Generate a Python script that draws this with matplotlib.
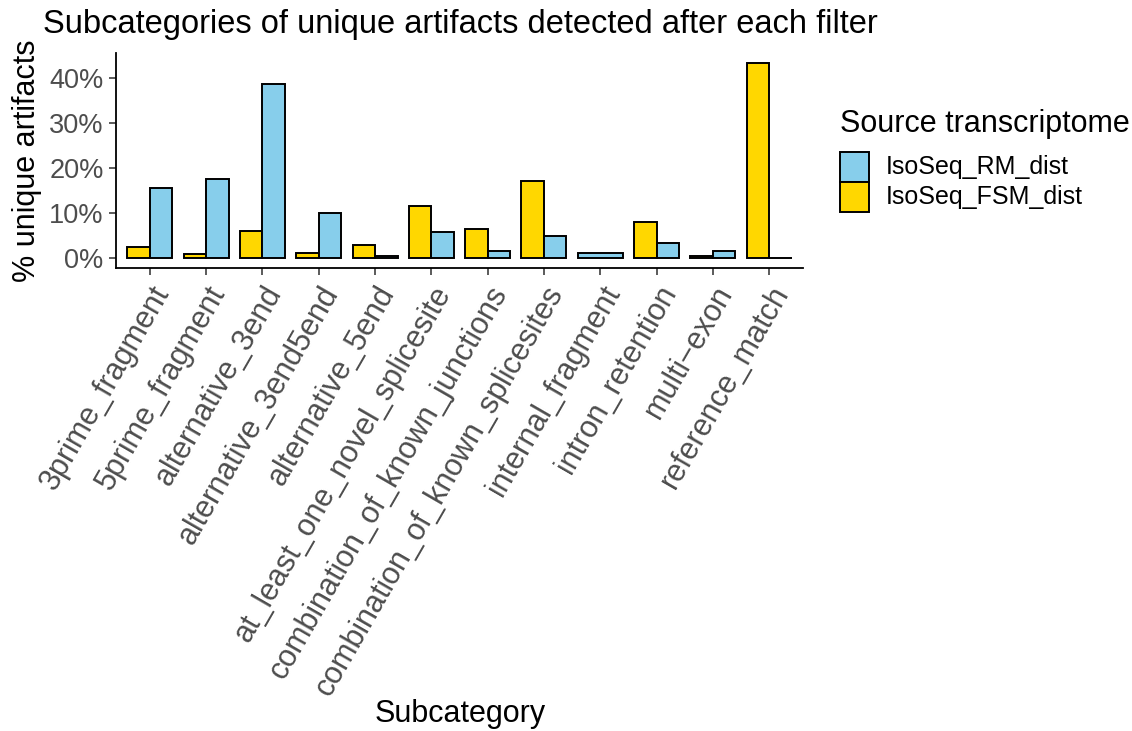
import numpy as np
import matplotlib
matplotlib.use("Agg")
import matplotlib.pyplot as plt
from matplotlib.patches import Rectangle
from matplotlib.ticker import FuncFormatter

plt.rcParams['font.family'] = ['Liberation Sans', 'DejaVu Sans']

categories = ["3prime_fragment", "5prime_fragment", "alternative_3end", "alternative_3end5end",
              "alternative_5end", "at_least_one_novel_splicesite", "combination_of_known_junctions",
              "combination_of_known_splicesites", "internal_fragment", "intron_retention",
              "multi\u2212exon", "reference_match"]
fsm_values = [2.4, 1.0, 6.0, 1.25, 3.0, 11.6, 6.5, 17.0, np.nan, 8.1, 0.4, 43.3]
rm_values = [15.5, 17.6, 38.5, 10.0, 0.5, 5.7, 1.7, 5.0, 1.25, 3.3, 1.7, 0.1]
series_names = ["IsoSeq_RM_dist", "IsoSeq_FSM_dist"]
series_colors = {"IsoSeq_RM_dist": "#87CEEB", "IsoSeq_FSM_dist": "#FFD700"}

W, H = 1132, 731
fig = plt.figure(figsize=(W/100, H/100), dpi=100)
ax = fig.add_axes([116/W, 1-268/H, (803-116)/W, (268-53)/H])

total_w = 0.8
x = np.arange(len(categories))
for i in range(len(categories)):
    f, r = fsm_values[i], rm_values[i]
    groups = [(f, series_colors["IsoSeq_FSM_dist"]), (r, series_colors["IsoSeq_RM_dist"])]
    present = [(v, c) for v, c in groups if not np.isnan(v)]
    n = len(present)
    w = total_w / n
    for j, (v, c) in enumerate(present):
        xc = x[i] - total_w/2 + w*(j+0.5)
        ax.bar(xc, v, width=w, color=c, edgecolor='black', linewidth=1.4, zorder=2)

ymax = np.nanmax(fsm_values + rm_values)
pad = ymax * 0.05
ax.set_ylim(-pad, ymax + pad)
ax.set_xlim(-0.6, len(categories) - 0.4)
ax.set_yticks([0, 10, 20, 30, 40])
ax.yaxis.set_major_formatter(FuncFormatter(lambda v, p: f"{v:.0f}%"))
ax.set_xticks(x)
ax.set_xticklabels(categories, rotation=60, ha='right', va='top', rotation_mode='anchor')

for s in ['top', 'right']:
    ax.spines[s].set_visible(False)
for s in ['left', 'bottom']:
    ax.spines[s].set_linewidth(1.3)
    ax.spines[s].set_color('black')
ax.tick_params(axis='both', colors='#4D4D4D', length=5, width=1.3, labelcolor='#4D4D4D')
ax.tick_params(axis='x', labelsize=22, pad=4)
ax.tick_params(axis='y', labelsize=19.5, pad=4)

ax.set_ylabel("% unique artifacts", fontsize=22, color='black', labelpad=5)
fig.text(460/W, 1-714/H, "Subcategory", fontsize=22, ha='center', va='center')
fig.text(43/W, 1-24/H, "Subcategories of unique artifacts detected after each filter",
         fontsize=23.5, ha='left', va='center')

# legend (drawn manually to match ggplot spacing)
fig.text(840/W, 1-124/H, "Source transcriptome", fontsize=22, ha='left', va='center')
key_top = 152
key_h = 30
for k, name in enumerate(series_names):
    y0 = key_top + k*key_h
    fig.patches.append(Rectangle((840/W, 1-(y0+key_h)/H), 29/W, key_h/H,
                                 transform=fig.transFigure, facecolor=series_colors[name],
                                 edgecolor='black', linewidth=1.4))
    fig.text(886/W, 1-(y0+key_h/2)/H, name, fontsize=18, ha='left', va='center')

fig.savefig("out.png", dpi=100)
